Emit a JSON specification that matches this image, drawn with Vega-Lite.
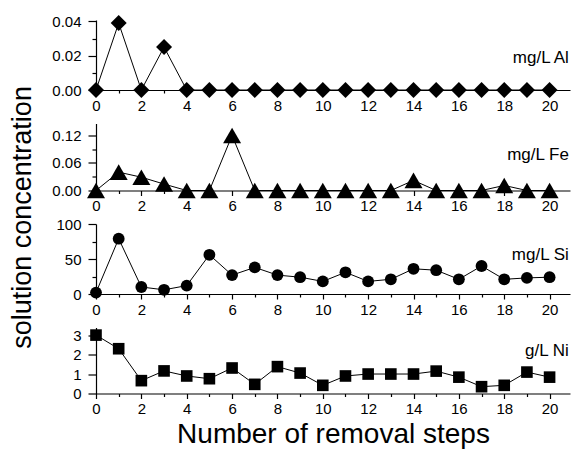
{
  "$schema": "https://vega.github.io/schema/vega-lite/v6.json",
  "background": "white",
  "padding": {"top": 14, "left": 8, "right": 2, "bottom": 2},
  "bounds": "flush",
  "spacing": 33.5,
  "title": {"text": "solution concentration", "orient": "left", "anchor": "middle", "fontSize": 27, "fontWeight": "normal", "font": "Liberation Sans", "color": "black", "offset": 15, "dx": 14},
  "config": {
    "view": {"stroke": null},
    "font": "Liberation Sans",
    "axis": {"grid": false, "domainColor": "black", "tickColor": "black", "labelColor": "black", "labelFontSize": 15, "labelFont": "Liberation Sans", "titleColor": "black", "domainWidth": 1.2, "tickWidth": 1.2, "labelOverlap": false, "labelFlush": false, "labelBound": false, "tickCount": 100},
    "axisX": {"labelPadding": 3},
    "axisY": {"labelPadding": 7}
  },
  "datasets": {
    "conc": [
      {"el": "Al", "step": 0, "v": 0}, {"el": "Al", "step": 1, "v": 0.039}, {"el": "Al", "step": 2, "v": 0}, {"el": "Al", "step": 3, "v": 0.025}, {"el": "Al", "step": 4, "v": 0}, {"el": "Al", "step": 5, "v": 0}, {"el": "Al", "step": 6, "v": 0}, {"el": "Al", "step": 7, "v": 0}, {"el": "Al", "step": 8, "v": 0}, {"el": "Al", "step": 9, "v": 0}, {"el": "Al", "step": 10, "v": 0}, {"el": "Al", "step": 11, "v": 0}, {"el": "Al", "step": 12, "v": 0}, {"el": "Al", "step": 13, "v": 0}, {"el": "Al", "step": 14, "v": 0}, {"el": "Al", "step": 15, "v": 0}, {"el": "Al", "step": 16, "v": 0}, {"el": "Al", "step": 17, "v": 0}, {"el": "Al", "step": 18, "v": 0}, {"el": "Al", "step": 19, "v": 0}, {"el": "Al", "step": 20, "v": 0},
      {"el": "Fe", "step": 0, "v": 0}, {"el": "Fe", "step": 1, "v": 0.04}, {"el": "Fe", "step": 2, "v": 0.029}, {"el": "Fe", "step": 3, "v": 0.014}, {"el": "Fe", "step": 4, "v": 0}, {"el": "Fe", "step": 5, "v": 0}, {"el": "Fe", "step": 6, "v": 0.12}, {"el": "Fe", "step": 7, "v": 0}, {"el": "Fe", "step": 8, "v": 0}, {"el": "Fe", "step": 9, "v": 0}, {"el": "Fe", "step": 10, "v": 0}, {"el": "Fe", "step": 11, "v": 0}, {"el": "Fe", "step": 12, "v": 0}, {"el": "Fe", "step": 13, "v": 0}, {"el": "Fe", "step": 14, "v": 0.022}, {"el": "Fe", "step": 15, "v": 0}, {"el": "Fe", "step": 16, "v": 0}, {"el": "Fe", "step": 17, "v": 0}, {"el": "Fe", "step": 18, "v": 0.011}, {"el": "Fe", "step": 19, "v": 0}, {"el": "Fe", "step": 20, "v": 0},
      {"el": "Si", "step": 0, "v": 2}, {"el": "Si", "step": 1, "v": 79}, {"el": "Si", "step": 2, "v": 10}, {"el": "Si", "step": 3, "v": 6}, {"el": "Si", "step": 4, "v": 12}, {"el": "Si", "step": 5, "v": 56}, {"el": "Si", "step": 6, "v": 27}, {"el": "Si", "step": 7, "v": 38}, {"el": "Si", "step": 8, "v": 27}, {"el": "Si", "step": 9, "v": 24}, {"el": "Si", "step": 10, "v": 18}, {"el": "Si", "step": 11, "v": 31}, {"el": "Si", "step": 12, "v": 18}, {"el": "Si", "step": 13, "v": 21}, {"el": "Si", "step": 14, "v": 36}, {"el": "Si", "step": 15, "v": 34}, {"el": "Si", "step": 16, "v": 21}, {"el": "Si", "step": 17, "v": 40}, {"el": "Si", "step": 18, "v": 21}, {"el": "Si", "step": 19, "v": 23}, {"el": "Si", "step": 20, "v": 24},
      {"el": "Ni", "step": 0, "v": 3.0}, {"el": "Ni", "step": 1, "v": 2.3}, {"el": "Ni", "step": 2, "v": 0.66}, {"el": "Ni", "step": 3, "v": 1.16}, {"el": "Ni", "step": 4, "v": 0.9}, {"el": "Ni", "step": 5, "v": 0.76}, {"el": "Ni", "step": 6, "v": 1.31}, {"el": "Ni", "step": 7, "v": 0.47}, {"el": "Ni", "step": 8, "v": 1.38}, {"el": "Ni", "step": 9, "v": 1.05}, {"el": "Ni", "step": 10, "v": 0.42}, {"el": "Ni", "step": 11, "v": 0.9}, {"el": "Ni", "step": 12, "v": 1.0}, {"el": "Ni", "step": 13, "v": 1.0}, {"el": "Ni", "step": 14, "v": 1.0}, {"el": "Ni", "step": 15, "v": 1.15}, {"el": "Ni", "step": 16, "v": 0.84}, {"el": "Ni", "step": 17, "v": 0.35}, {"el": "Ni", "step": 18, "v": 0.42}, {"el": "Ni", "step": 19, "v": 1.1}, {"el": "Ni", "step": 20, "v": 0.84}
    ],
    "labels": [
      {"el": "Al", "label": "mg/L Al", "x": 20.85, "y": 0.0185},
      {"el": "Fe", "label": "mg/L Fe", "x": 20.85, "y": 0.078},
      {"el": "Si", "label": "mg/L Si", "x": 20.85, "y": 56},
      {"el": "Ni", "label": "g/L Ni", "x": 20.85, "y": 2.2}
    ]
  },
  "vconcat": [
    {
      "width": 474, "height": 70,
      "layer": [
        {"data": {"name": "conc"}, "transform": [{"filter": "datum.el === 'Al'"}], "mark": {"type": "line", "color": "black", "strokeWidth": 1},
         "encoding": {
           "x": {"field": "step", "type": "quantitative", "scale": {"domain": [0, 20.9], "nice": false, "zero": false},
                 "axis": {"title": null, "format": "d", "values": [0,1,2,3,4,5,6,7,8,9,10,11,12,13,14,15,16,17,18,19,20], "labelExpr": "datum.value % 2 ? '' : datum.label", "tickSize": {"condition": {"test": "datum.value % 2", "value": 3}, "value": 5}}},
           "y": {"field": "v", "type": "quantitative", "scale": {"domain": [0, 0.0408], "nice": false},
                 "axis": {"title": null, "values": [0, 0.01, 0.02, 0.03, 0.04], "format": ".2f", "labelExpr": "round(datum.value*100) % 2 ? '' : datum.label", "tickSize": {"condition": {"test": "round(datum.value*100) % 2", "value": 4}, "value": 8}}}
         }},
        {"data": {"name": "conc"}, "transform": [{"filter": "datum.el === 'Al'"}], "mark": {"type": "point", "shape": "diamond", "filled": true, "color": "black", "opacity": 1, "size": 256},
         "encoding": {"x": {"field": "step", "type": "quantitative"}, "y": {"field": "v", "type": "quantitative"}}},
        {"data": {"name": "labels"}, "transform": [{"filter": "datum.el === 'Al'"}], "mark": {"type": "text", "align": "right", "baseline": "middle", "fontSize": 17, "color": "black"},
         "encoding": {"x": {"field": "x", "type": "quantitative"}, "y": {"field": "y", "type": "quantitative"}, "text": {"field": "label"}}}
      ]
    },
    {
      "width": 474, "height": 67,
      "layer": [
        {"data": {"name": "conc"}, "transform": [{"filter": "datum.el === 'Fe'"}], "mark": {"type": "line", "color": "black", "strokeWidth": 1},
         "encoding": {
           "x": {"field": "step", "type": "quantitative", "scale": {"domain": [0, 20.9], "nice": false, "zero": false},
                 "axis": {"title": null, "format": "d", "values": [0,1,2,3,4,5,6,7,8,9,10,11,12,13,14,15,16,17,18,19,20], "labelExpr": "datum.value % 2 ? '' : datum.label", "tickSize": {"condition": {"test": "datum.value % 2", "value": 3}, "value": 5}}},
           "y": {"field": "v", "type": "quantitative", "scale": {"domain": [0, 0.146], "nice": false},
                 "axis": {"title": null, "values": [0, 0.03, 0.06, 0.09, 0.12], "format": ".2f", "labelExpr": "round(datum.value*100) % 6 ? '' : datum.label", "tickSize": {"condition": {"test": "round(datum.value*100) % 6", "value": 4}, "value": 8}}}
         }},
        {"data": {"name": "conc"}, "transform": [{"filter": "datum.el === 'Fe'"}], "mark": {"type": "point", "shape": "triangle-up", "filled": true, "color": "black", "opacity": 1, "size": 324},
         "encoding": {"x": {"field": "step", "type": "quantitative"}, "y": {"field": "v", "type": "quantitative"}}},
        {"data": {"name": "labels"}, "transform": [{"filter": "datum.el === 'Fe'"}], "mark": {"type": "text", "align": "right", "baseline": "middle", "fontSize": 17, "color": "black"},
         "encoding": {"x": {"field": "x", "type": "quantitative"}, "y": {"field": "y", "type": "quantitative"}, "text": {"field": "label"}}}
      ]
    },
    {
      "width": 474, "height": 70,
      "layer": [
        {"data": {"name": "conc"}, "transform": [{"filter": "datum.el === 'Si'"}], "mark": {"type": "line", "color": "black", "strokeWidth": 1},
         "encoding": {
           "x": {"field": "step", "type": "quantitative", "scale": {"domain": [0, 20.9], "nice": false, "zero": false},
                 "axis": {"title": null, "format": "d", "values": [0,1,2,3,4,5,6,7,8,9,10,11,12,13,14,15,16,17,18,19,20], "labelExpr": "datum.value % 2 ? '' : datum.label", "tickSize": {"condition": {"test": "datum.value % 2", "value": 3}, "value": 5}}},
           "y": {"field": "v", "type": "quantitative", "scale": {"domain": [0, 100], "nice": false},
                 "axis": {"title": null, "format": "d", "values": [0, 25, 50, 75, 100], "labelExpr": "datum.value % 50 ? '' : datum.label", "tickSize": {"condition": {"test": "datum.value % 50", "value": 4}, "value": 8}}}
         }},
        {"data": {"name": "conc"}, "transform": [{"filter": "datum.el === 'Si'"}], "mark": {"type": "point", "shape": "circle", "filled": true, "color": "black", "opacity": 1, "size": 140},
         "encoding": {"x": {"field": "step", "type": "quantitative"}, "y": {"field": "v", "type": "quantitative"}}},
        {"data": {"name": "labels"}, "transform": [{"filter": "datum.el === 'Si'"}], "mark": {"type": "text", "align": "right", "baseline": "middle", "fontSize": 17, "color": "black"},
         "encoding": {"x": {"field": "x", "type": "quantitative"}, "y": {"field": "y", "type": "quantitative"}, "text": {"field": "label"}}}
      ]
    },
    {
      "width": 474, "height": 66,
      "layer": [
        {"data": {"name": "conc"}, "transform": [{"filter": "datum.el === 'Ni'"}], "mark": {"type": "line", "color": "black", "strokeWidth": 1},
         "encoding": {
           "x": {"field": "step", "type": "quantitative", "scale": {"domain": [0, 20.9], "nice": false, "zero": false},
                 "axis": {"title": "Number of removal steps", "titleFontSize": 28, "titleFontWeight": "normal", "titlePadding": 4, "format": "d", "values": [0,1,2,3,4,5,6,7,8,9,10,11,12,13,14,15,16,17,18,19,20], "labelExpr": "datum.value % 2 ? '' : datum.label", "tickSize": {"condition": {"test": "datum.value % 2", "value": 3}, "value": 5}}},
           "y": {"field": "v", "type": "quantitative", "scale": {"domain": [0, 3.39], "nice": false},
                 "axis": {"title": null, "format": "d", "values": [0, 0.5, 1, 1.5, 2, 2.5, 3], "labelExpr": "datum.value % 1 ? '' : datum.label", "tickSize": {"condition": {"test": "datum.value % 1", "value": 4}, "value": 8}}}
         }},
        {"data": {"name": "conc"}, "transform": [{"filter": "datum.el === 'Ni'"}], "mark": {"type": "point", "shape": "square", "filled": true, "color": "black", "opacity": 1, "size": 135},
         "encoding": {"x": {"field": "step", "type": "quantitative"}, "y": {"field": "v", "type": "quantitative"}}},
        {"data": {"name": "labels"}, "transform": [{"filter": "datum.el === 'Ni'"}], "mark": {"type": "text", "align": "right", "baseline": "middle", "fontSize": 17, "color": "black"},
         "encoding": {"x": {"field": "x", "type": "quantitative"}, "y": {"field": "y", "type": "quantitative"}, "text": {"field": "label"}}}
      ]
    }
  ]
}
